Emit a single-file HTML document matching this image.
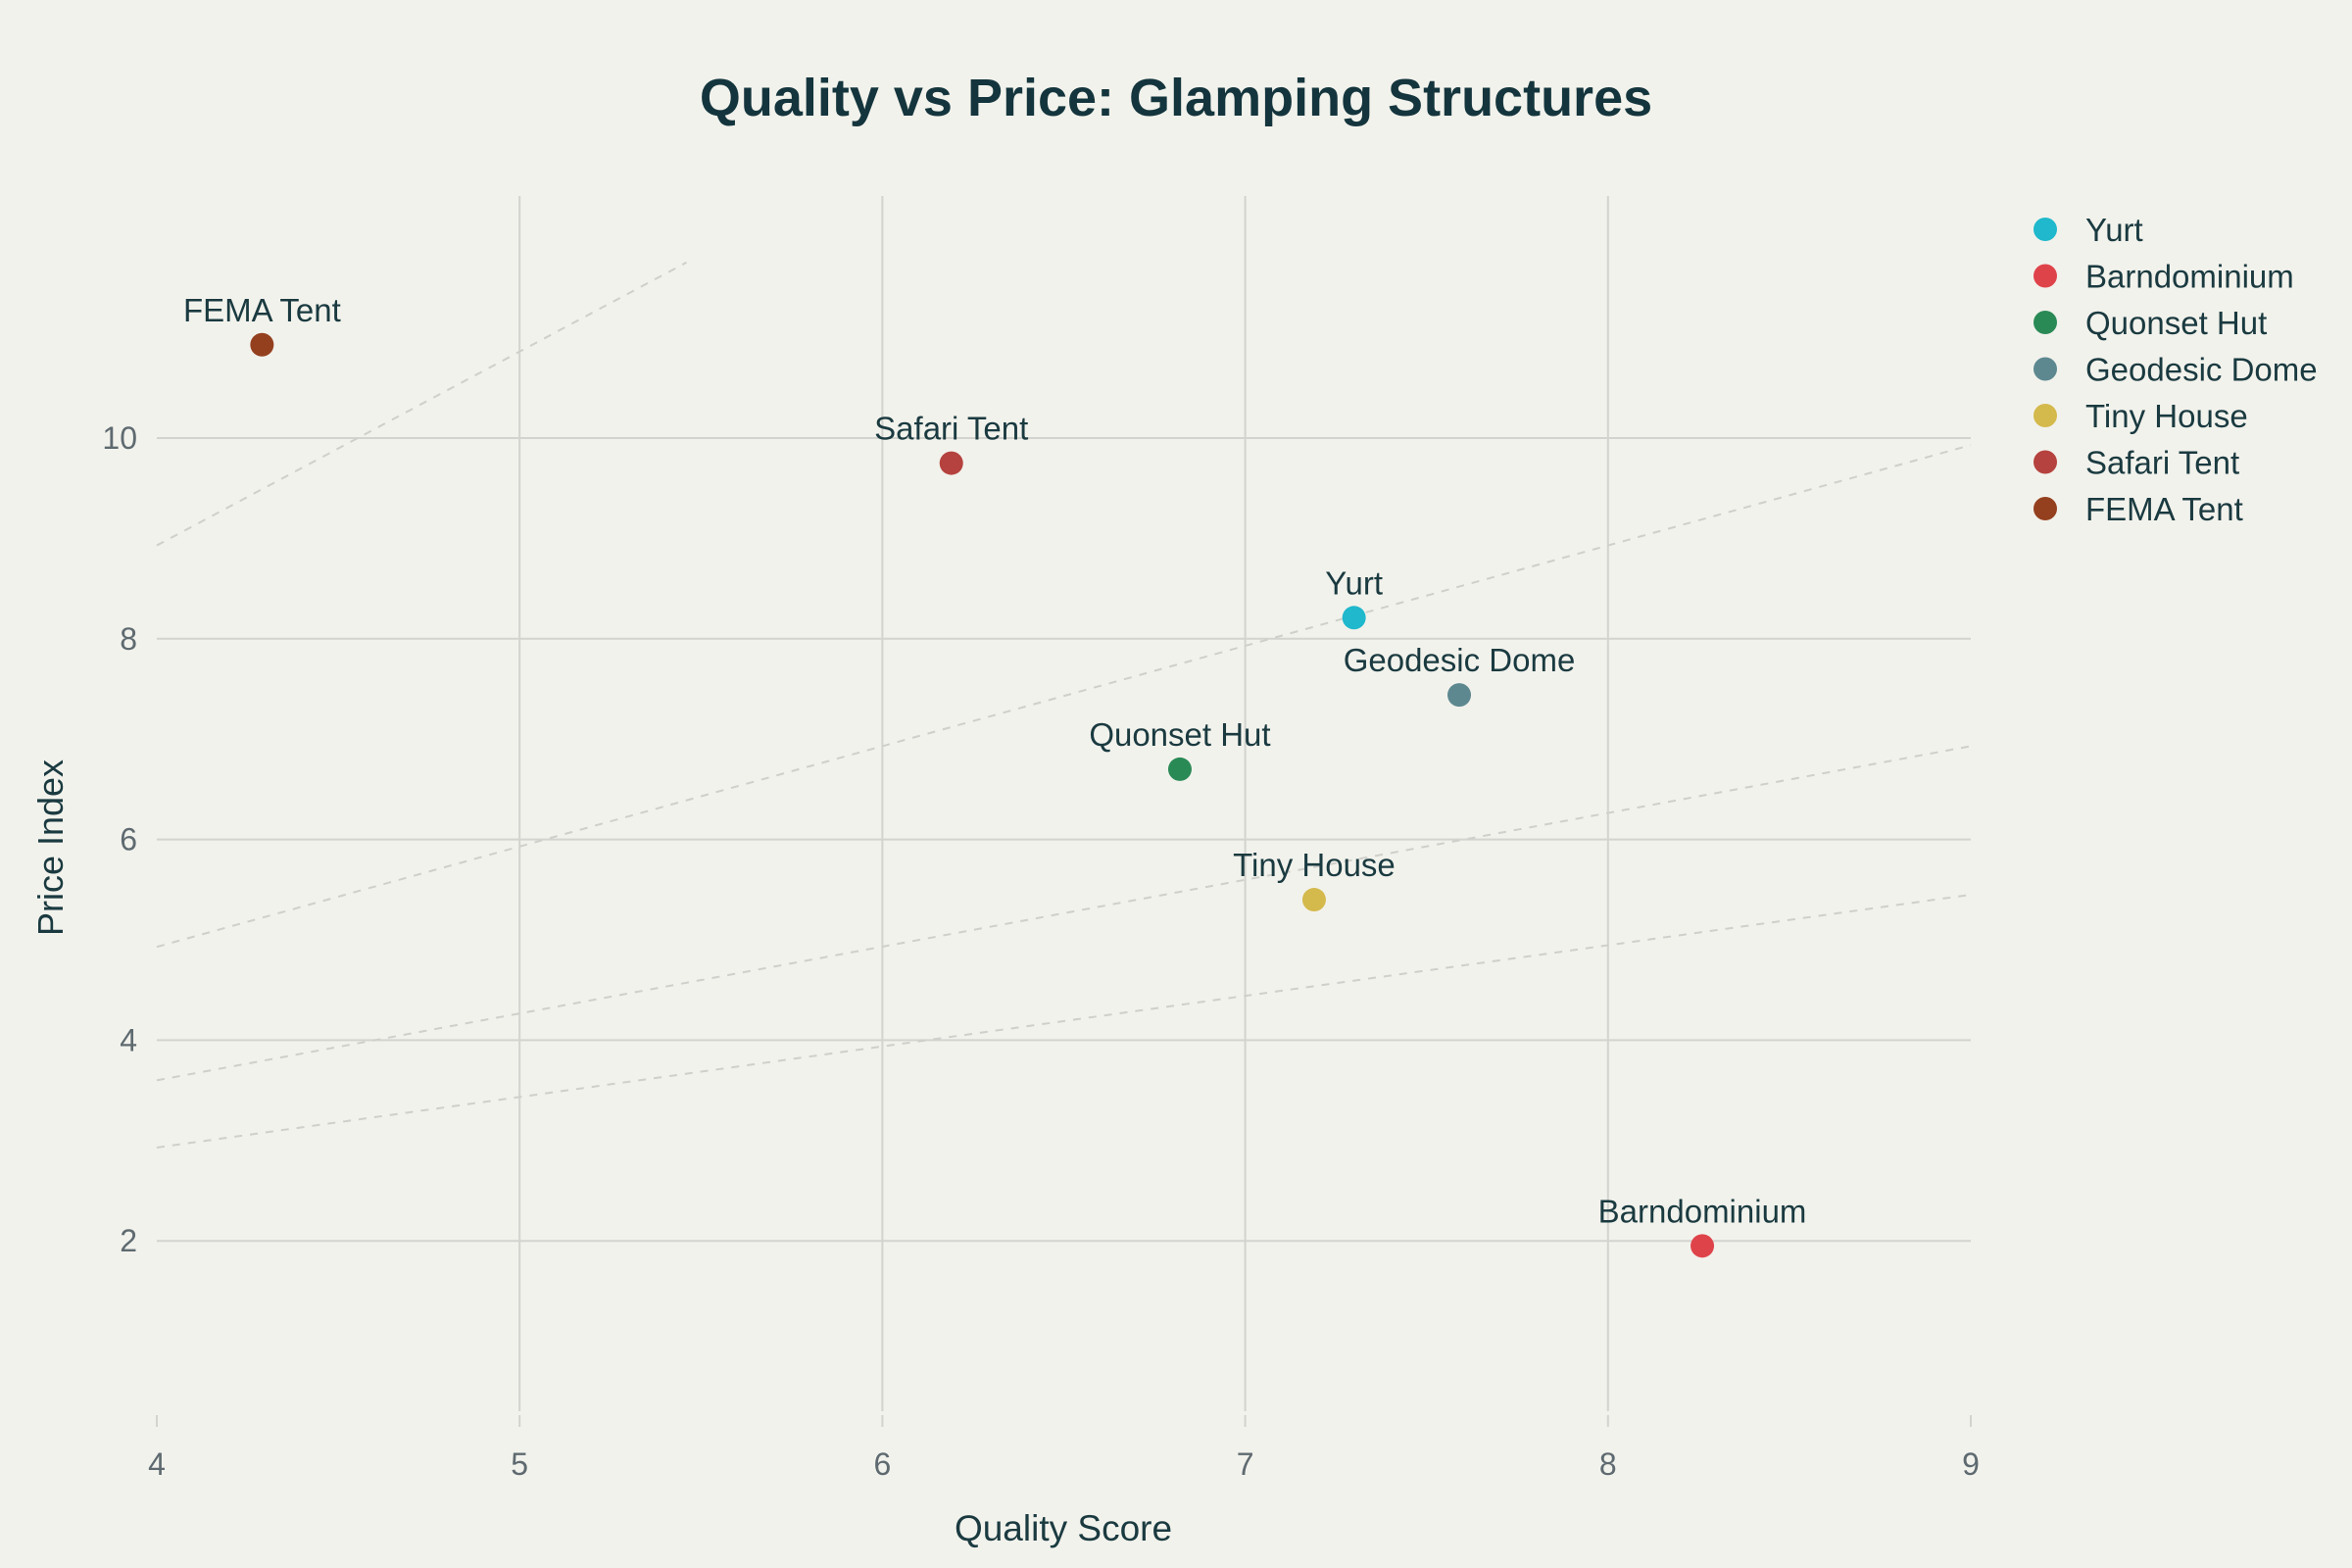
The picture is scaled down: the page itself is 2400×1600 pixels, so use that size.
<!DOCTYPE html>
<html><head><meta charset="utf-8"><style>
html,body{margin:0;padding:0;background:#f2f2ec;}
svg{display:block;font-family:"Liberation Sans",sans-serif;}
</style></head><body>
<svg id="chart" width="2400" height="1600" viewBox="0 0 2400 1600">
<rect width="2400" height="1600" fill="#f2f2ec"/>
<text x="1200" y="118" text-anchor="middle" font-size="54" font-weight="bold" fill="#14353d">Quality vs Price: Glamping Structures</text>
<g id="grid"></g><g id="refs"></g><g id="ticks"></g><g id="pts"></g><g id="legend"></g>
<text x="1085" y="1572" text-anchor="middle" font-size="37" fill="#1a3a40">Quality Score</text>
<text transform="translate(64,865) rotate(-90)" text-anchor="middle" font-size="36" fill="#1a3a40">Price Index</text>
</svg>
<script>
const names=["Yurt","Barndominium","Quonset Hut","Geodesic Dome","Tiny House","Safari Tent","FEMA Tent"];
const quality=[7.30,8.26,6.82,7.59,7.19,6.19,4.29];
const price=[8.21,1.95,6.70,7.44,5.40,9.75,10.93];
const colors=["#1fb8cc","#df434a","#2a8a56","#5d8890","#d4b94c","#b5423e","#94401f"];
const xTicks=[4,5,6,7,8,9];
const yTicks=[2,4,6,8,10];
const refX0=[4,4,4,4];
const refY0=[8.93,4.93,3.60,2.93];
const refX1=[5.46,9,9,9];
const refY1=[11.75,9.93,6.93,5.45];
const NS="http://www.w3.org/2000/svg";
const X=v=>160+(v-4)*370.2;
const Y=v=>447-(v-10)*102.4;
function mk(tag,attrs,parent,txt){const e=document.createElementNS(NS,tag);for(const k in attrs)e.setAttribute(k,attrs[k]);if(txt!=null)e.textContent=txt;document.getElementById(parent).appendChild(e);return e;}
const top_=200,bot=1440;
xTicks.forEach(t=>{
  if(t>4&&t<9){const l=mk('line',{x1:X(t),x2:X(t),y1:top_,y2:bot,stroke:'#d3d3cf','stroke-width':2},'grid');
  
  }
  const tk=mk('line',{x1:X(t),x2:X(t),y1:bot+4,y2:bot+16,stroke:'#d3d3cf','stroke-width':2},'ticks');
  
  
  const tx=mk('text',{x:X(t),y:1505,'text-anchor':'middle','font-size':32,fill:'#5e6a70'},'ticks',String(t));
  
  
});
yTicks.forEach(t=>{
  const l=mk('line',{x1:160,x2:2011,y1:Y(t),y2:Y(t),stroke:'#d3d3cf','stroke-width':2},'grid');
  
  
  const tx=mk('text',{x:140,y:Y(t)+11,'text-anchor':'end','font-size':32,fill:'#5e6a70'},'ticks',String(t));
  
  
});
refX0.forEach((x0,i)=>{
  const l=mk('line',{x1:X(x0),y1:Y(refY0[i]),x2:X(refX1[i]),y2:Y(refY1[i]),stroke:'#cfcfcb','stroke-width':2,'stroke-dasharray':'8,8'},'refs');
  
  
});
names.forEach((n,i)=>{
  const c=mk('circle',{cx:X(quality[i]),cy:Y(price[i]),r:12,fill:colors[i]},'pts');
  
  
  const t=mk('text',{x:X(quality[i]),y:Y(price[i])-24,'text-anchor':'middle','font-size':33,fill:'#1a3a40'},'pts',n);
  
  
  const lc=mk('circle',{cx:2087,cy:234+i*47.5,r:12,fill:colors[i]},'legend');
  
  
  const lt=mk('text',{x:2128,y:246+i*47.5,'font-size':33,fill:'#1a3a40'},'legend',n);
  
  
});
</script>
</body></html>
